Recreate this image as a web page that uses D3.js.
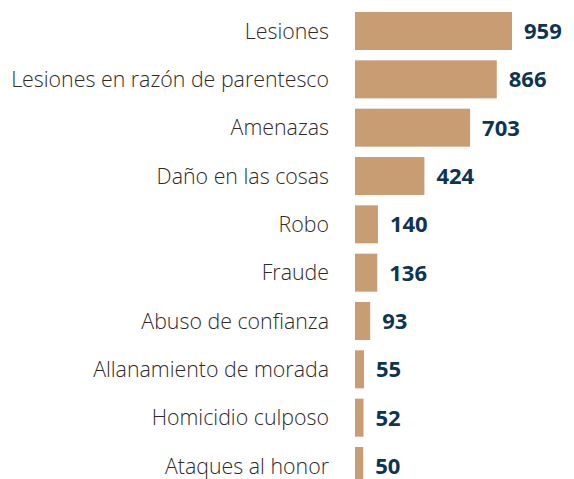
<!DOCTYPE html>
<html>
<head>
<meta charset="utf-8">
<script src="https://cdn.jsdelivr.net/npm/d3@7"></script>
<style>
  body { margin: 0; background: #fff; }
</style>
</head>
<body>
<svg width="574" height="479"></svg>
<script>
// data
var categories = ['Lesiones', 'Lesiones en razón de parentesco', 'Amenazas', 'Daño en las cosas',
    'Robo', 'Fraude', 'Abuso de confianza', 'Allanamiento de morada', 'Homicidio culposo', 'Ataques al honor'];
var values = [959, 866, 703, 424, 140, 136, 93, 55, 52, 50];

var svg = d3.select('svg');
var x0 = 355;

var x = d3.scaleLinear()
    .domain([0, 959])
    .range([x0, 512]);

var y = d3.scaleBand()
    .domain(categories)
    .range([12, 485])
    .paddingInner(0.214)
    .paddingOuter(0);

var rows = svg.selectAll('.row')
    .data(categories)
    .enter()
    .append('g')
    .attr('class', 'row');

rows.append('rect')
    .attr('x', x0)
    .attr('y', function(d) { return y(d); })
    .attr('width', function(d, i) { return x(values[i]) - x0; })
    .attr('height', y.bandwidth())
    .attr('fill', '#c89d74');

var labels = rows.append('text')
    .attr('x', 329)
    .attr('y', function(d) { return y(d) + y.bandwidth() / 2; })
    .attr('dy', '0.36em')
    .attr('text-anchor', 'end')
    .attr('font-family', 'Open Sans, sans-serif')
    .attr('font-weight', 300)
    .attr('font-size', 19)
    .attr('fill', '#2e2a28')
    .text(function(d) { return d; });

// widest label spans ~318px in the reference
var w = labels.nodes()[1].getComputedTextLength();
labels.attr('font-size', 19 * 318 / w);

rows.append('text')
    .attr('x', function(d, i) { return x(values[i]) + 12; })
    .attr('y', function(d) { return y(d) + y.bandwidth() / 2; })
    .attr('dy', '0.36em')
    .attr('font-family', 'Open Sans, sans-serif')
    .attr('font-weight', 700)
    .attr('font-size', 22)
    .attr('fill', '#0e3453')
    .text(function(d, i) { return values[i]; });
</script>
</body>
</html>
